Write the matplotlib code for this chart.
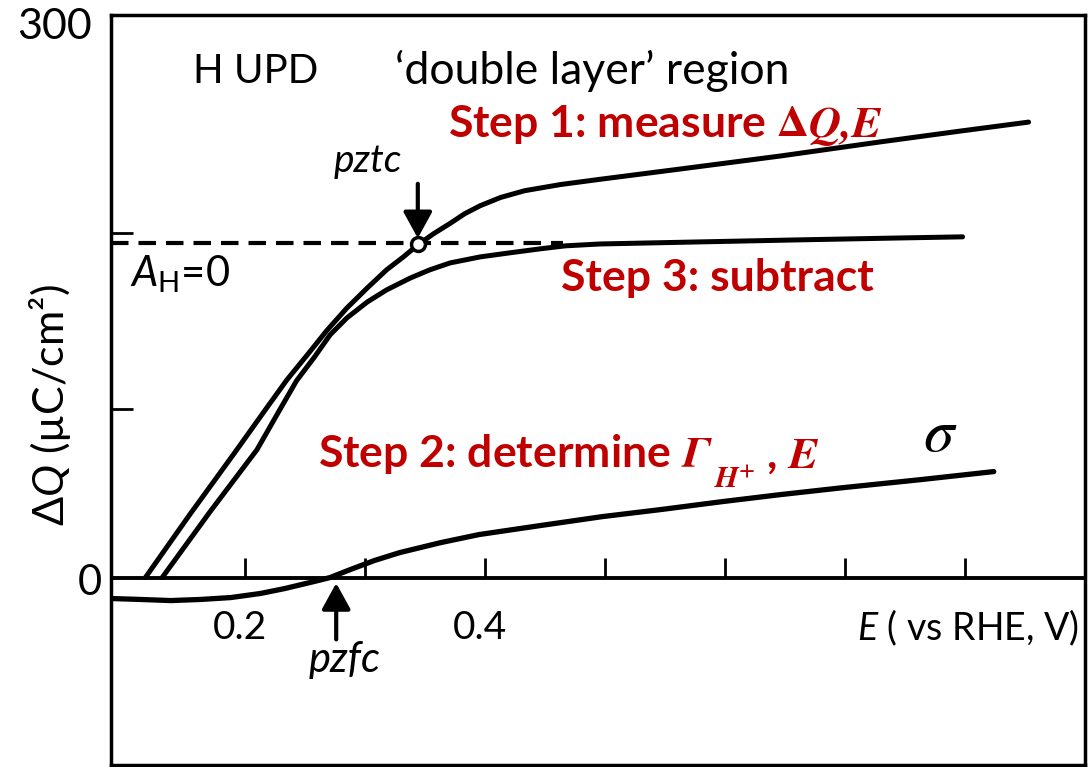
import matplotlib.pyplot as plt

plt.rcParams['font.family'] = ['Lato', 'DejaVu Sans']
plt.rcParams['mathtext.fontset'] = 'custom'
plt.rcParams['mathtext.rm'] = 'Lato'
plt.rcParams['mathtext.it'] = 'Lato:italic'
plt.rcParams['mathtext.bf'] = 'Lato:bold'

# measured charge, step 1 (E vs RHE in V, dQ in uC/cm2)
E_meas = [0.117, 0.154, 0.192, 0.217, 0.235, 0.252, 0.268, 0.285, 0.302, 0.318,
          0.332, 0.344, 0.357, 0.371, 0.383, 0.396, 0.413, 0.433, 0.463, 0.496,
          0.563, 0.646, 0.729, 0.796, 0.853]
Q_meas = [0, 33.6, 67.1, 89.5, 105.5, 118.8, 131.6, 143.8, 154.5, 164.1,
          171.0, 177.4, 183.3, 188.9, 194.0, 198.3, 202.7, 206.3, 209.6, 212.4,
          217.9, 224.8, 232.3, 238.1, 242.9]

# after subtraction, step 3
E_sub = [0.131, 0.171, 0.210, 0.229, 0.243, 0.258, 0.271, 0.285, 0.302, 0.318,
         0.338, 0.354, 0.371, 0.396, 0.421, 0.446, 0.467, 0.496, 0.579, 0.663,
         0.746, 0.798]
Q_sub = [0, 35.2, 68.2, 89.5, 105.0, 117.7, 129.5, 138.5, 147.0, 153.4,
         159.8, 164.1, 167.8, 171.0, 173.2, 175.3, 176.9, 177.9, 179.0, 180.1,
         181.1, 181.7]

# free charge sigma
E_sig = [0.088, 0.113, 0.138, 0.163, 0.188, 0.213, 0.233, 0.254, 0.271, 0.288,
         0.308, 0.329, 0.363, 0.395, 0.446, 0.498, 0.546, 0.598, 0.646, 0.698,
         0.763, 0.824]
Q_sig = [-11.2, -11.7, -12.3, -11.7, -10.7, -8.5, -5.9, -2.7, 0, 4.3,
         9.1, 13.3, 18.6, 22.9, 27.7, 32.5, 36.2, 40.5, 44.2, 47.9,
         52.2, 56.5]

Q_AH0 = 178.5          # A_H = 0 level
E_AH0_end = 0.465
pztc = (0.344, 178)
pzfc = 0.276
x_ticks = [0.2, 0.3, 0.4, 0.5, 0.6, 0.7, 0.8]
y_ticks = [90, 184]

red = '#C00000'

fig = plt.figure(figsize=(10.89, 7.67), dpi=100)
ax = fig.add_axes([0.1019, 0.0026, 0.8944, 0.9778])
ax.set_xlim(0.0883, 0.9)
ax.set_ylim(-100, 300)

ax.plot(E_meas, Q_meas, color='k', lw=3.6, solid_capstyle='round', solid_joinstyle='round')
ax.plot(E_sub, Q_sub, color='k', lw=3.6, solid_capstyle='round', solid_joinstyle='round')
ax.plot(E_sig, Q_sig, color='k', lw=3.8, solid_capstyle='round', solid_joinstyle='round')
ax.plot([0.0883, E_AH0_end], [Q_AH0, Q_AH0], color='k', lw=3, ls=(0, (4.2, 2.4)))
ax.plot(*pztc, 'o', ms=10, mfc='white', mec='k', mew=2.5, zorder=5)

ax.axhline(0, color='k', lw=2.8)
ax.vlines(x_ticks, 0, 10.5, color='k', lw=2)

ax.set_xticks([])
ax.set_yticks(y_ticks)
ax.tick_params(axis='y', direction='in', length=16, width=2, labelleft=False)
for s in ax.spines.values():
    s.set_linewidth(2.5)

# arrows
arr = dict(arrowstyle='-|>,head_length=0.4,head_width=0.22', lw=3, color='k',
           mutation_scale=40, shrinkA=0, shrinkB=0)
ax.annotate('', xy=(pztc[0], 181), xytext=(pztc[0], 210), arrowprops=arr)
ax.annotate('', xy=(pzfc, -3), xytext=(pzfc, -33), arrowprops=arr)

# labels
ax.text(0.209, 270, 'H UPD', fontsize=29, ha='center', va='center')
ax.text(0.489, 270, '\u2018double layer\u2019 region', fontsize=32, ha='center', va='center')
ax.text(0.3025, 222, 'pztc', fontsize=28, style='italic', ha='center', va='center')
ax.text(0.146, 162, '$A_{\\mathrm{H}}$=0', fontsize=30, ha='center', va='center')
ax.text(0.283, -44, 'pzfc', fontsize=30, style='italic', ha='center', va='center')
ax.text(0.196, -27, '0.2', fontsize=28, ha='center', va='center')
ax.text(0.396, -27, '0.4', fontsize=28, ha='center', va='center')
ax.text(0.8025, -27, '$E$ ( vs RHE, V)', fontsize=27, ha='center', va='center')
ax.text(0.779, 77, '$\\sigma$', fontsize=44, ha='center', va='center', math_fontfamily='stix')

ax.text(0.55, 241, 'Step 1: measure $\\mathbf{\\Delta}\\mathbfit{Q{,}E}$', fontsize=32,
        fontweight='bold', color=red, ha='center', va='center', math_fontfamily='stix')
ax.text(0.594, 160, 'Step 3: subtract', fontsize=32, fontweight='bold', color=red,
        ha='center', va='center')
t2 = ax.text(0.261, 59, 'Step 2: determine $\\mathbfit{\\Gamma}$', fontsize=32,
             fontweight='bold', color=red, ha='left', va='baseline', math_fontfamily='stix')
t_sub = ax.annotate('$\\mathbfit{H}^{\\mathbf{+}}$', xy=(1, 0), xycoords=t2,
                    xytext=(1, -9), textcoords='offset points', fontsize=22,
                    color=red, ha='left', va='baseline', math_fontfamily='stix')
ax.annotate(' , $\\mathbfit{E}$', xy=(1, 0), xycoords=(t_sub, t2),
            xytext=(0, 0), textcoords='offset points', fontsize=32, fontweight='bold',
            color=red, ha='left', va='bottom', math_fontfamily='stix')

fig.text(55 / 1089, 1 - 27 / 767, '300', fontsize=31, ha='center', va='center')
fig.text(90 / 1089, 1 - 583 / 767, '0', fontsize=30, ha='center', va='center')
fig.text(50 / 1089, 1 - 405 / 767, '\u0394$Q$ (\u00b5C/cm\u00b2)', fontsize=31, rotation=90,
         ha='center', va='center')

fig.savefig('out.png', dpi=100)
